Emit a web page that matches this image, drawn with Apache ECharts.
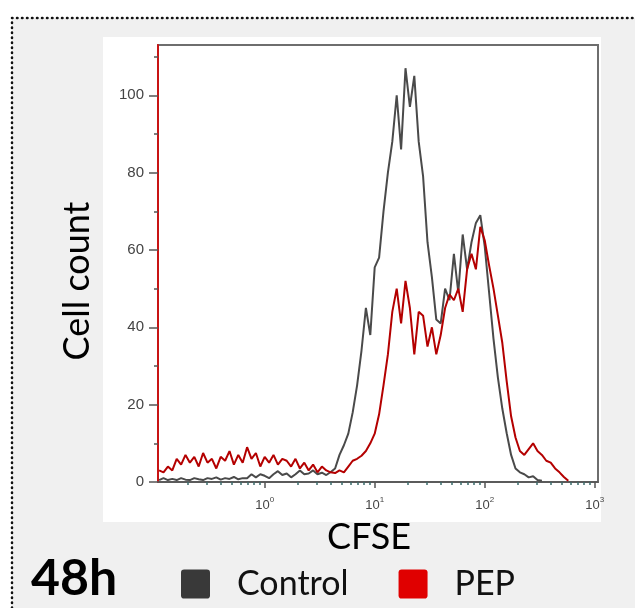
<!DOCTYPE html>
<html>
<head>
<meta charset="utf-8">
<title>CFSE 48h</title>
<script src="https://cdn.jsdelivr.net/npm/echarts@6/dist/echarts.min.js"></script>
<style>
  html, body { margin: 0; padding: 0; background: #fff; }
  #chart { width: 635px; height: 608px; }
</style>
</head>
<body>
<div id="chart"></div>
<script>
// CFSE channel positions in log10 units (10^-0.96 ... 10^3)
const cfseLog = [
  -0.96, -0.92, -0.88, -0.84, -0.80, -0.76, -0.72, -0.68, -0.64, -0.60,
  -0.56, -0.52, -0.48, -0.44, -0.40, -0.36, -0.32, -0.28, -0.24, -0.20,
  -0.16, -0.12, -0.08, -0.04, 0.00, 0.04, 0.08, 0.12, 0.16, 0.20,
  0.24, 0.28, 0.32, 0.36, 0.40, 0.44, 0.48, 0.52, 0.56, 0.60,
  0.64, 0.68, 0.72, 0.76, 0.80, 0.84, 0.88, 0.92, 0.96, 1.00,
  1.04, 1.08, 1.12, 1.16, 1.20, 1.24, 1.28, 1.32, 1.36, 1.40,
  1.44, 1.48, 1.52, 1.56, 1.60, 1.64, 1.68, 1.72, 1.76, 1.80,
  1.84, 1.88, 1.92, 1.96, 2.00, 2.04, 2.08, 2.12, 2.16, 2.20,
  2.24, 2.28, 2.32, 2.36, 2.40, 2.44, 2.48, 2.52, 2.56, 2.60,
  2.64, 2.68, 2.72, 2.76, 2.80, 2.84, 2.88, 2.92, 2.96, 3.00
];

// cell counts per channel
const controlCounts = [
  0.5, 1, 0.5, 0.8, 0.5, 1, 0.6, 0.5, 1, 0.7,
  0.5, 1, 0.8, 1.2, 0.6, 1, 0.8, 1.3, 0.7, 1,
  1, 2, 1.2, 2, 1.6, 1, 2, 2.8, 1.8, 2.2,
  1.2, 2, 3, 2, 2.2, 3, 2, 2.4, 1.8, 2.6,
  3.5, 7, 9.5, 12.5, 18, 25, 34, 45, 38, 55.5,
  58, 70, 80, 88, 100, 86, 107, 97, 105, 88,
  79, 62, 53, 42, 41, 50, 47, 59, 49, 64,
  55, 62, 67, 69, 61, 49, 37, 27, 19, 12.6,
  7, 3.5, 2.5, 2, 1.2, 1.5, 0.5, 0.3
];

const pepCounts = [
  3, 2.5, 4, 3, 6, 4.5, 7, 5, 6.5, 4,
  7.5, 5, 6, 3.5, 6.5, 5.5, 8, 4.5, 7, 5,
  9, 6, 7.5, 4, 6.5, 5, 7, 4.5, 6, 5.5,
  4, 6, 3.5, 5, 3, 4.5, 2.5, 4, 3, 2.5,
  2.3, 3, 2.5, 4, 5.5, 6, 6.8, 8, 10, 12.5,
  17.5, 25, 33, 44, 50, 41, 52, 45, 33, 44,
  43, 35, 40, 33, 38, 45, 48.5, 47, 50, 44,
  55, 59, 55, 66, 62.5, 56, 50, 43, 36, 26,
  17, 11.5, 8, 7, 8.5, 10, 8, 7, 5.5, 5,
  3.5, 2.5, 1.3, 0.3
];

const yTicks = [0, 20, 40, 60, 80, 100];
const yMinorTicks = [10, 30, 50, 70, 90, 110];
const xDecades = [0, 1, 2, 3];

// log minor ticks (2..9 in each decade) inside the axis range
const xMinorTicks = [];
[-1, 0, 1, 2].forEach(function (d) {
  for (let m = 2; m <= 9; m++) {
    const v = d + Math.log10(m);
    if (v > -0.97 && v < 3) xMinorTicks.push(v);
  }
});

const font = "Lato, 'Noto Sans', sans-serif";
const tickFont = "'Liberation Sans', Arial, sans-serif";

function pairs(counts) {
  return counts.map(function (c, i) { return [cfseLog[i], c]; });
}

const chart = echarts.init(document.getElementById("chart"), null, { renderer: "canvas" });

chart.setOption({
  animation: false,
  backgroundColor: "#ffffff",
  grid: {
    left: 158,
    right: 37,
    top: 45,
    bottom: 126,
    show: true,
    borderColor: "#6e6e6e",
    borderWidth: 2,
    backgroundColor: "transparent",
  },
  xAxis: [
    {
      type: "value",
      min: -0.97,
      max: 3.03,
      position: "bottom",
      axisLine: { onZero: false, lineStyle: { color: "#555", width: 1.5 } },
      axisTick: { customValues: xDecades, length: 6, lineStyle: { color: "#555", width: 1.5 } },
      axisLabel: {
        customValues: xDecades,
        margin: 14,
        formatter: function (v) { return "{b|10}{s|" + Math.round(v) + "}"; },
        rich: {
          b: { fontFamily: tickFont, fontSize: 13, color: "#444", lineHeight: 16, verticalAlign: "bottom" },
          s: { fontFamily: tickFont, fontSize: 8, color: "#444", lineHeight: 16, verticalAlign: "top" },
        },
      },
      splitLine: { show: false },
    },
    {
      type: "value",
      min: -0.97,
      max: 3.03,
      position: "bottom",
      offset: 0,
      axisLine: { show: false, onZero: false },
      axisTick: { customValues: xMinorTicks, length: 3, lineStyle: { color: "#3d6b6b", width: 1.5 } },
      axisLabel: { show: false },
      splitLine: { show: false },
    },
  ],
  yAxis: [
    {
      type: "value",
      min: 0,
      max: 113,
      position: "left",
      axisLine: { show: true, onZero: false, lineStyle: { color: "#c81414", width: 2 } },
      axisTick: { customValues: yTicks, length: 9, lineStyle: { color: "#555", width: 1.5 } },
      axisLabel: {
        customValues: yTicks,
        margin: 14,
        fontFamily: tickFont,
        fontSize: 15,
        color: "#444",
      },
      splitLine: { show: false },
    },
    {
      type: "value",
      min: 0,
      max: 113,
      position: "left",
      offset: 0,
      axisLine: { show: false, onZero: false },
      axisTick: { customValues: yMinorTicks, length: 4, lineStyle: { color: "#555", width: 1.5 } },
      axisLabel: { show: false },
      splitLine: { show: false },
    },
  ],
  legend: {
    left: 176,
    top: 562,
    icon: "path://M3,0 H25 Q28,0 28,3 V25 Q28,28 25,28 H3 Q0,28 0,25 V3 Q0,0 3,0 Z",
    itemWidth: 29,
    itemHeight: 29,
    itemGap: 50,
    data: [
      { name: "Control", itemStyle: { color: "#393939" } },
      { name: "PEP", itemStyle: { color: "#e00000" } },
    ],
    textStyle: { fontFamily: font, fontSize: 34, color: "#111", padding: [8, 0, 0, 22] },
  },
  series: [
    {
      name: "Control",
      type: "line",
      data: pairs(controlCounts),
      showSymbol: false,
      lineStyle: { color: "#4a4a4a", width: 2 },
      itemStyle: { color: "#393939" },
      z: 2,
    },
    {
      name: "PEP",
      type: "line",
      data: pairs(pepCounts),
      showSymbol: false,
      lineStyle: { color: "#b40000", width: 2 },
      itemStyle: { color: "#e00000" },
      z: 3,
    },
  ],
  graphic: [
    {
      type: "rect",
      z: -10,
      shape: { x: 12, y: 18, width: 700, height: 650 },
      style: { fill: "#f0f0f0", stroke: "#111", lineWidth: 2.5, lineDash: [0.5, 4.5], lineCap: "round" },
    },
    {
      type: "rect",
      z: -9,
      shape: { x: 103, y: 37, width: 498, height: 485 },
      style: { fill: "#ffffff" },
    },
    {
      type: "text",
      x: 77,
      y: 281,
      rotation: Math.PI / 2,
      style: { text: "Cell count", font: "36px " + font, fill: "#000", align: "center", verticalAlign: "middle" },
    },
    {
      type: "text",
      x: 369,
      y: 537,
      style: { text: "CFSE", font: "36px " + font, fill: "#000", align: "center", verticalAlign: "middle" },
    },
    {
      type: "text",
      x: 31,
      y: 579,
      style: { text: "48h", font: "bold 50px " + font, fill: "#000", align: "left", verticalAlign: "middle" },
    },
  ],
});
</script>
</body>
</html>
